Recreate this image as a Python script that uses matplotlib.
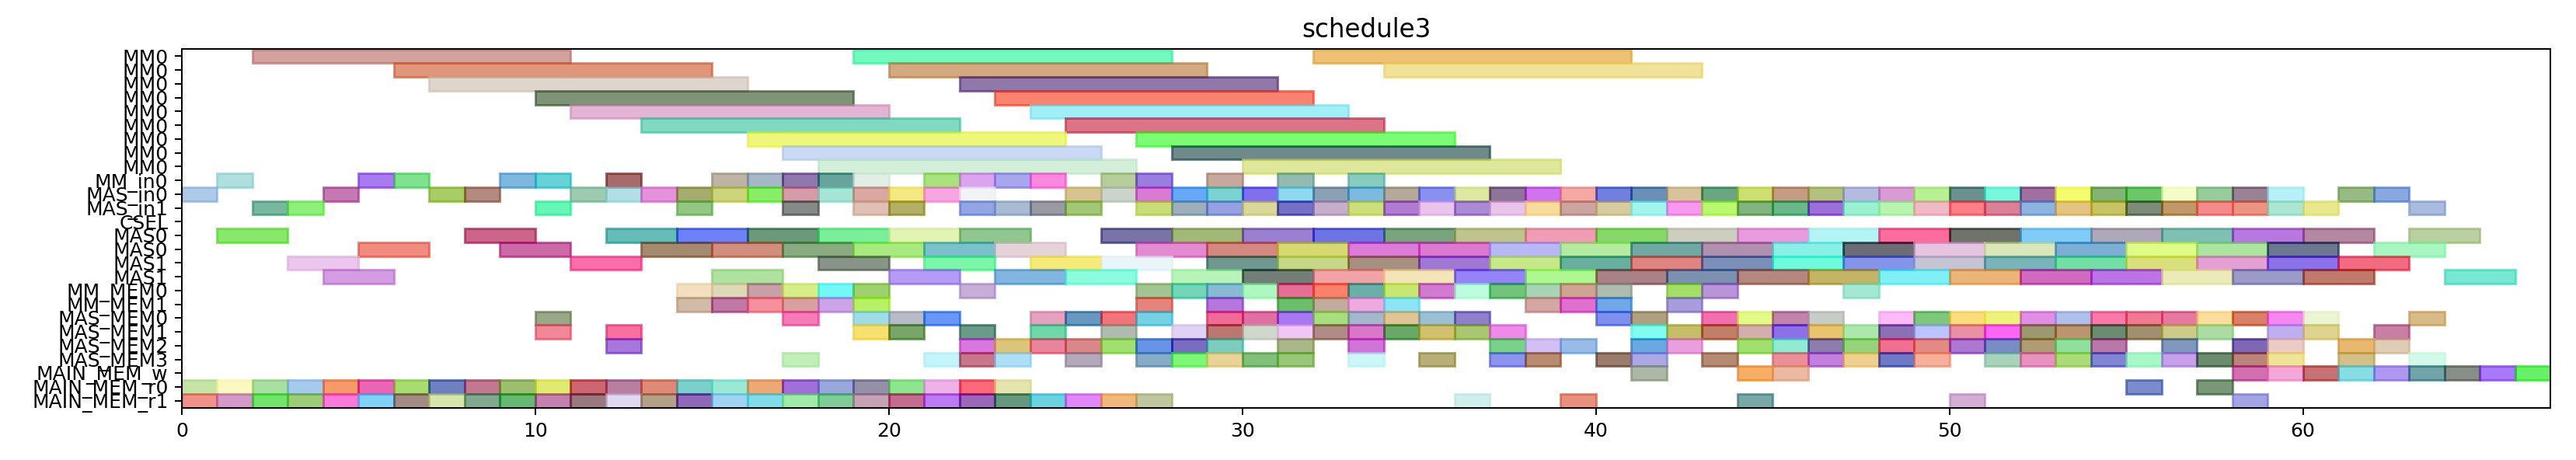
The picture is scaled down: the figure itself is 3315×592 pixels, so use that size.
import matplotlib
matplotlib.use("Agg")
import matplotlib.pyplot as plt
import matplotlib.colors as mcolors
import numpy as np

row_labels = ["MM0"] * 9 + [
    "MM_in0", "MAS_in0", "MAS_in1", "CSEL", "MAS0", "MAS0", "MAS1", "MAS1",
    "MM_MEM0", "MM_MEM1", "MAS_MEM0", "MAS_MEM1", "MAS_MEM2", "MAS_MEM3",
    "MAIN_MEM_w", "MAIN_MEM_r0", "MAIN_MEM_r1",
]

# duration of the tasks on each row
row_durations = [9] * 9 + [1, 1, 1, 1, 2, 2, 2, 2, 1, 1, 1, 1, 1, 1, 1, 1, 1]

# start times per row (top to bottom)
row_starts = [
    [2, 19, 32],
    [6, 20, 34],
    [7, 22],
    [10, 23],
    [11, 24],
    [13, 25],
    [16, 27],
    [17, 28],
    [18, 30],
    [1, 5, 6, 9, 10, 12, 15, 16, 17, 18, 19, 21, 22, 23, 24, 26, 27, 29, 31, 33],
    [0, 4, 7, 8, 11, 12, 13, 14, 15, 16, 17, 18, 19, 20, 21, 22, 25, 26, 27, 28,
     29, 30, 31, 32, 33, 34, 35, 36, 37, 38, 39, 40, 41, 42, 43, 44, 45, 46, 47,
     48, 49, 50, 51, 52, 53, 54, 55, 56, 57, 58, 59, 61, 62],
    [2, 3, 10, 14, 17, 19, 20, 22, 23, 24, 25, 27, 28, 29, 30, 31, 32, 33, 34, 35,
     36, 37, 38, 39, 40, 41, 42, 43, 44, 45, 46, 47, 48, 49, 50, 51, 52, 53, 54,
     55, 56, 57, 58, 59, 60, 63],
    [],
    [1, 8, 12, 14, 16, 18, 20, 22, 26, 28, 30, 32, 34, 36, 38, 40, 42, 44, 46, 48,
     50, 52, 54, 56, 58, 60, 63],
    [5, 9, 13, 15, 17, 19, 21, 23, 27, 29, 31, 33, 35, 37, 39, 41, 43, 45, 47, 49,
     51, 53, 55, 57, 59, 62],
    [3, 11, 18, 21, 24, 26, 29, 31, 33, 35, 37, 39, 41, 43, 45, 47, 49, 51, 53, 55,
     57, 59, 61],
    [4, 15, 20, 23, 25, 28, 30, 32, 34, 36, 38, 40, 42, 44, 46, 48, 50, 52, 54, 56,
     58, 60, 64],
    [14, 15, 16, 17, 18, 19, 22, 27, 28, 29, 30, 31, 32, 33, 34, 35, 36, 37, 38, 39,
     40, 42, 43, 47],
    [14, 15, 16, 17, 18, 19, 27, 29, 31, 32, 33, 34, 38, 39, 40, 42],
    [10, 17, 19, 20, 21, 24, 25, 26, 27, 29, 30, 31, 32, 33, 34, 35, 36, 40, 41, 43,
     44, 45, 46, 48, 49, 50, 51, 52, 53, 54, 55, 56, 57, 58, 59, 60, 63],
    [10, 12, 19, 20, 22, 24, 26, 28, 29, 30, 31, 32, 33, 34, 35, 36, 37, 41, 42, 43,
     44, 45, 46, 47, 48, 49, 50, 51, 52, 53, 54, 55, 56, 57, 59, 60, 62],
    [12, 22, 23, 24, 25, 26, 27, 28, 29, 31, 33, 37, 38, 39, 41, 42, 44, 45, 46, 47,
     48, 49, 50, 51, 52, 53, 54, 56, 58, 59, 61, 62],
    [17, 21, 22, 23, 25, 27, 28, 29, 30, 31, 33, 35, 37, 38, 40, 41, 43, 45, 46, 47,
     48, 49, 51, 52, 53, 54, 55, 56, 57, 58, 59, 61, 63],
    [41, 44, 45, 58, 59, 60, 61, 62, 63, 64, 65, 66],
    [0, 1, 2, 3, 4, 5, 6, 7, 8, 9, 10, 11, 12, 13, 14, 15, 16, 17, 18, 19, 20, 21,
     22, 23, 55, 57],
    [0, 1, 2, 3, 4, 5, 6, 7, 8, 9, 10, 11, 12, 13, 14, 15, 16, 17, 18, 19, 20, 21,
     22, 23, 24, 25, 26, 27, 36, 39, 44, 50, 58],
]

# colours as they look on white (face blended with alpha)
row_colors = [
    ["#d4a29c", "#72f9be", "#eec274"],
    ["#e0967a", "#d4aa82", "#f2e29a"],
    ["#ded6cc", "#9078aa"],
    ["#7f9376", "#fa8270"],
    ["#e3b5d5", "#a0eef6"],
    ["#80d9c0", "#dc7488"],
    ["#eef87a", "#7cfc74"],
    ["#cad9f4", "#6e8a8a"],
    ["#d3efda", "#e0e89a"],
    ["#b0e0de", "#a97bf0", "#7fe28f", "#7eb9de", "#67d4d8", "#a86b6b", "#bdb4a6",
     "#a6b8c8", "#9078b0", "#6aa39c", "#e2efe6", "#a9e17f", "#dca4ee", "#aaa6ee",
     "#fa88e0", "#b8cc9c", "#9a7ee0", "#c8a89c", "#94bcb0", "#88ccc0"],
    ["#b0c9e8", "#c479b3", "#a8cc60", "#b38a80", "#9fcab2", "#b3e0e6", "#e592dc",
     "#a6ad6e", "#ccd57c", "#88ee66", "#d39ca7", "#a6e4d5", "#d9a8a0", "#f4e884",
     "#f8a6e2", "#f2f4f8", "#d8c490", "#ccd4cc", "#d87cd4", "#68aaf8", "#7ad4d0",
     "#8070ee", "#90d8f0", "#8ca0b4", "#7ebae0", "#b4aa9a", "#8890f0", "#dee8a0",
     "#8e7498", "#d074ee", "#f4aaa4", "#7080e0", "#6a90b8", "#d8c49a", "#6aa682",
     "#cce070", "#c49c84", "#b4c080", "#b4bce0", "#d89cd4", "#b8f094", "#6a9090",
     "#78f8e0", "#a070a0", "#f4fc70", "#84b474", "#6cc868", "#f4fcc8", "#98cc9c",
     "#988294", "#b8f0f8", "#98bc84", "#88a8e0"],
    ["#79b8a0", "#8ef07a", "#67f6b6", "#92c885", "#848a85", "#dfc0b5", "#b3b060",
     "#93a5e2", "#aabcd4", "#9a9aa4", "#a2c878", "#c8de78", "#9cb0bc", "#96a2e0",
     "#dad89a", "#7470c4", "#c4aecc", "#cce07c", "#b07cd0", "#eac4ec", "#aa8ad4",
     "#e8c4e8", "#f8dc9c", "#cca4a0", "#d6cca0", "#a4f4ee", "#f69aee", "#bcf870",
     "#82b480", "#6ab88a", "#9c70d8", "#9cf0d0", "#b8f4b0", "#f0bac4", "#fc8088",
     "#dc8098", "#8cb4e0", "#e4c484", "#c8c468", "#7c8c78", "#c0986a", "#f48a8c",
     "#ec9484", "#ace6d2", "#e8e890", "#aabce0"],
    [],
    ["#88e86c", "#c9668a", "#66bdb8", "#6d82f6", "#6a9a7a", "#7aee98", "#e2f3b4",
     "#90c890", "#7874a8", "#a2b878", "#9c80d0", "#6e74e4", "#7aa47e", "#bec48c",
     "#f09cb4", "#86d868", "#cecec0", "#e89ce0", "#b4f4f4", "#fc6c9c", "#6e746c",
     "#80ccf8", "#b0a8b8", "#80c0b4", "#b878e0", "#b488a0", "#bcd0a0"],
    ["#f28a80", "#cc6aa8", "#a68a70", "#d08e7c", "#8aab82", "#a8ea80", "#7ac2cc",
     "#e4d4d8", "#e48ad0", "#d48880", "#d6da70", "#dc7cd8", "#dc7ad0", "#b8b8f8",
     "#b4eca0", "#70a8a4", "#b090b0", "#88f0e4", "#6c6c74", "#e6c4e0", "#d8e8b8",
     "#7cb0d4", "#e0fc88", "#ace6a0", "#6a7890", "#a8f8c0"],
    ["#ecc8ee", "#fb6fa8", "#889488", "#7cf6a8", "#f6ea7a", "#e8f6fa", "#6e9890",
     "#c6d888", "#a89080", "#a078d4", "#c8e888", "#68b0a0", "#e08480", "#7a90b8",
     "#70fadc", "#8494e8", "#c4c4d4", "#7ab4bc", "#74e0a4", "#d8e07c", "#e4a0d4",
     "#8c72e8", "#f26c80"],
    ["#d49de2", "#b0e2a0", "#b49cf4", "#82b6e0", "#8cfce0", "#b8f4b8", "#727e78",
     "#f2a4a8", "#f4e6b8", "#9484f8", "#b0f890", "#a88284", "#7c90b0", "#b48880",
     "#c4b468", "#80f0f4", "#ecb478", "#d06cc0", "#bc74e4", "#eaecb8", "#9a9cc8",
     "#c07a6c", "#78e8d4"],
    ["#f2dfc0", "#e0d8b8", "#c8a0a8", "#d6ee88", "#74f8f8", "#9fd26e", "#c8aed8",
     "#a2c490", "#74d6b8", "#88bcd4", "#b0f8c0", "#e46e96", "#fa826c", "#6ab0a8",
     "#c8e870", "#d07ad0", "#bcfedc", "#72c47c", "#aad4b4", "#d0a494", "#aebcb0",
     "#a4de68", "#b894d8", "#a4e8d4"],
    ["#d0baa8", "#c078a6", "#f6909c", "#daa0a0", "#cca4e8", "#b8f068", "#e6847c",
     "#b478dc", "#6abf6c", "#c0ac9c", "#eeaae0", "#8ce4f6", "#d4a8a4", "#e070d0",
     "#70a8e8", "#a89cdc"],
    ["#98a888", "#f67cb8", "#a0dce8", "#b8bcc8", "#6898f8", "#e4a2c0", "#6898c0",
     "#f07478", "#74d2e4", "#f06c98", "#de70a4", "#a878f0", "#aade80", "#a4b8cc",
     "#e0c494", "#9cc0d4", "#9080cc", "#7e90ec", "#b0a080", "#f070b0", "#e4fa88",
     "#c084ac", "#c8ccc8", "#fcbcf8", "#7ec87c", "#fcdc7c", "#eef27c", "#e090e4",
     "#b0c0ec", "#f87aa8", "#ee7a94", "#e67aa0", "#fcde9c", "#d88068", "#f488f0",
     "#ecf4d4", "#d8bc88"],
    ["#f08898", "#f870a0", "#f8e070", "#7aa56a", "#6a9a88", "#6ed8aa", "#b0bcb0",
     "#e0d2f4", "#bc7870", "#d0d8cc", "#f0c8f4", "#b08c84", "#d878c8", "#6aa86a",
     "#d0c070", "#a8c870", "#ee8ae8", "#80fef0", "#c4be68", "#c08068", "#d4aeae",
     "#8c70e8", "#e8c470", "#ace8ac", "#8c70b4", "#bcc4fc", "#e890a4", "#fc64f4",
     "#9c9870", "#bc9470", "#6a8c70", "#a09070", "#cccc88", "#acdca4", "#c0b0f0",
     "#e0d490", "#c880a4"],
    ["#a678dc", "#d878e0", "#dcc478", "#e8849c", "#d88888", "#a0e070", "#6894e8",
     "#7a6cc0", "#7ccebe", "#a8b888", "#d074d8", "#78d488", "#d2c0f4", "#98bce8",
     "#6aa8e0", "#e8a0dc", "#a0e070", "#90ecd4", "#8c7cb0", "#96d47c", "#f07090",
     "#e48a84", "#ac78d0", "#7a8cc4", "#b09c74", "#90e09c", "#b878a8", "#8098bc",
     "#7e68b4", "#ecccc4", "#e8b870", "#e0ccb4"],
    ["#c0f0b8", "#c4f4fc", "#c87888", "#aee0f6", "#b4aabc", "#88acc8", "#7ef878",
     "#e8d498", "#80c07a", "#98c878", "#ccf8f6", "#b8ae78", "#8c94ee", "#b88c70",
     "#987c6c", "#aca8e4", "#b48c74", "#ec9098", "#c080dc", "#f0d090", "#6e7ac8",
     "#f6b098", "#a8d4bc", "#e892c0", "#acdc78", "#8086d4", "#a8f8c8", "#c8a0ea",
     "#6c8c70", "#bc847a", "#f0e498", "#d4c088", "#d4fae8"],
    ["#acb8a4", "#f6ae60", "#eabca0", "#d070b0", "#f4a8d8", "#c87272", "#88dce4",
     "#b098f0", "#70a4a8", "#888f88", "#aa7af8", "#68f060"],
    ["#c8e4a8", "#fdf8c0", "#aae0a0", "#a6caee", "#f69a6c", "#e864b4", "#a8dc70",
     "#6e80c0", "#c07a90", "#9bbf70", "#e0ea70", "#cc6070", "#b980a0", "#de8a78",
     "#7ccfca", "#9ae8d6", "#ecaa78", "#a070d8", "#98a8d8", "#9490a8", "#90e490",
     "#eeb2e8", "#fa6a78", "#e4e4b0", "#7a8ccc", "#7a9878"],
    ["#f0928a", "#d49ac8", "#72e46c", "#9ccc78", "#fb7ada", "#80d4f8", "#a08c84",
     "#d6e6ac", "#80aa90", "#66b872", "#c480b0", "#9a7880", "#e0d8ee", "#b4a088",
     "#9068b8", "#a0d4f0", "#80dde8", "#a0eaa8", "#80cc98", "#c4a4b4", "#c46c90",
     "#bc7cf0", "#9a68b8", "#649880", "#6cd2e0", "#e088f8", "#f0b87a", "#c0c8a0",
     "#d0efec", "#e89080", "#78a8a8", "#d4b0d4", "#a4a4e4"],
]

ALPHA = 0.6


def base_color(hex_seen):
    rgb = np.array(mcolors.to_rgb(hex_seen))
    return tuple(np.clip(1 - (1 - rgb) / ALPHA, 0, 1))


W, H, DPI = 3315, 592, 180
fig = plt.figure(figsize=(W / DPI, H / DPI), dpi=DPI)
ax = fig.add_axes([234 / W, (H - 525) / H, (3282 - 234) / W, (525 - 62.7) / H])

for row, (starts, colors) in enumerate(zip(row_starts, row_colors)):
    for s, c in zip(starts, colors):
        bc = base_color(c)
        ax.barh(row, row_durations[row], left=s, height=1, color=bc,
                edgecolor=bc, alpha=ALPHA, linewidth=1.2)

ax.set_yticks(range(len(row_labels)))
ax.set_yticklabels(row_labels, fontsize=10)
ax.set_ylim(25.52, -0.55)
ax.set_xlim(0, 67)
ax.tick_params(axis='x', labelsize=10)
ax.set_title("schedule3", fontsize=13)

fig.savefig("out.png", dpi=DPI)
